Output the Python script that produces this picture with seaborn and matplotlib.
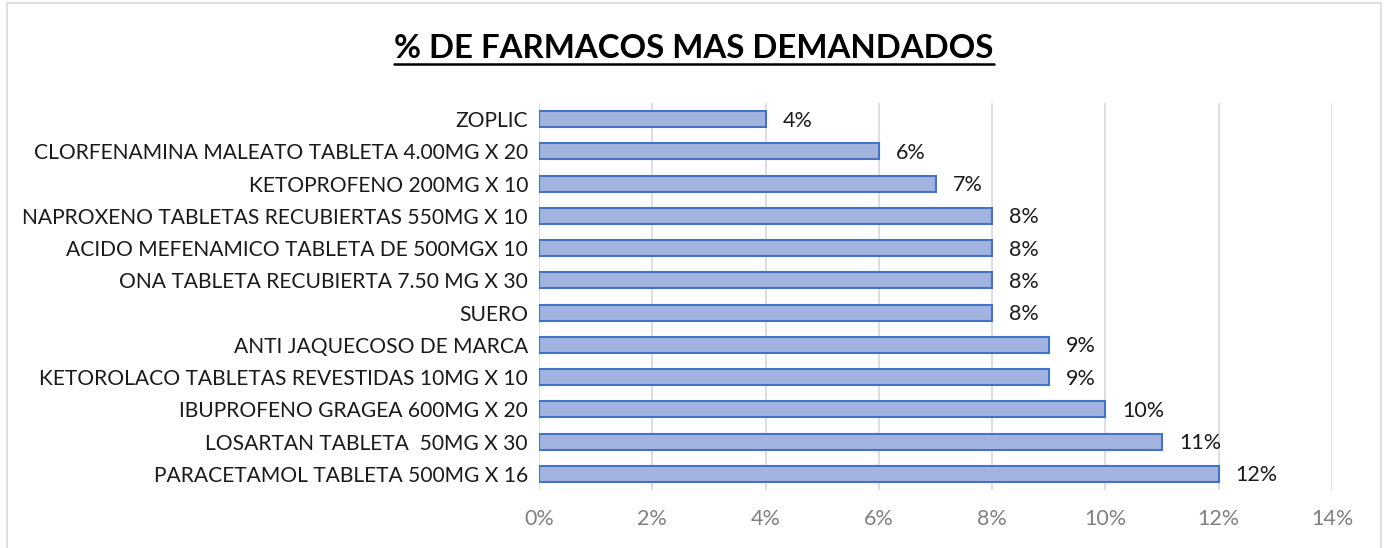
import matplotlib
matplotlib.use('Agg')
import matplotlib.pyplot as plt
from matplotlib.patches import Rectangle
from matplotlib.lines import Line2D
from matplotlib.ticker import FuncFormatter
import seaborn as sns
import pandas as pd

farmacos = [
    'ZOPLIC',
    'CLORFENAMINA MALEATO TABLETA 4.00MG X 20',
    'KETOPROFENO 200MG X 10',
    'NAPROXENO TABLETAS RECUBIERTAS 550MG X 10',
    'ACIDO MEFENAMICO TABLETA DE 500MGX 10',
    'ONA TABLETA RECUBIERTA 7.50 MG X 30',
    'SUERO',
    'ANTI JAQUECOSO DE MARCA',
    'KETOROLACO TABLETAS REVESTIDAS 10MG X 10',
    'IBUPROFENO GRAGEA 600MG X 20',
    'LOSARTAN TABLETA  50MG X 30',
    'PARACETAMOL TABLETA 500MG X 16',
]
porcentajes = [0.04, 0.06, 0.07, 0.08, 0.08, 0.08, 0.08, 0.09, 0.09, 0.10, 0.11, 0.12]
x_ticks = [0, 0.02, 0.04, 0.06, 0.08, 0.10, 0.12, 0.14]

df = pd.DataFrame({'farmaco': farmacos, 'pct': porcentajes})

sns.set_style('white')
plt.rcParams['font.family'] = ['Lato', 'DejaVu Sans']

fig = plt.figure(figsize=(13.87, 5.48), dpi=100)
ax = fig.add_axes([539 / 1387, 1 - 490 / 548, (1332 - 539) / 1387, (490 - 103) / 548])

sns.barplot(data=df, x='pct', y='farmaco', order=farmacos, orient='h',
            color='#a3b3df', edgecolor='#4472C4', linewidth=1.5, width=0.5,
            saturation=1, ax=ax)

for i, v in enumerate(porcentajes):
    ax.text(v + 0.003, i + 0.05, f'{v * 100:.0f}%', va='center', ha='left',
            fontsize=15.5, color='#1a1a1a')

ax.set_xlim(0, 0.14)
ax.set_ylim(11.5, -0.5)
ax.set_xticks(x_ticks)
ax.xaxis.set_major_formatter(FuncFormatter(lambda v, p: f'{v * 100:.0f}%'))
ax.tick_params(axis='x', colors='#808080', labelsize=15.5, length=0, pad=14)
ax.tick_params(axis='y', labelsize=15.1, length=0, pad=8, labelcolor='#1a1a1a')
ax.grid(axis='x', color='#d9d9d9', linewidth=1.2)
ax.set_axisbelow(True)
ax.set_xlabel('')
ax.set_ylabel('')
for s in ax.spines.values():
    s.set_visible(False)

title = fig.text(694 / 1387, 1 - 48 / 548, '% DE FARMACOS MAS DEMANDADOS',
                 ha='center', va='center', fontsize=23.8, fontweight='bold', color='#000000')

# underline the title
fig.canvas.draw()
bb = title.get_window_extent().transformed(fig.transFigure.inverted())
fig.lines.append(Line2D([bb.x0, bb.x1], [bb.y0 - 0.002, bb.y0 - 0.002],
                        transform=fig.transFigure, color='black', linewidth=1.8))

# chart border
fig.patches.append(Rectangle((7 / 1387, -0.02), (1381 - 7) / 1387, 1 - 3 / 548 + 0.02,
                             transform=fig.transFigure, fill=False,
                             edgecolor='#d9d9d9', linewidth=1.2))

fig.savefig('out.png', dpi=100)
